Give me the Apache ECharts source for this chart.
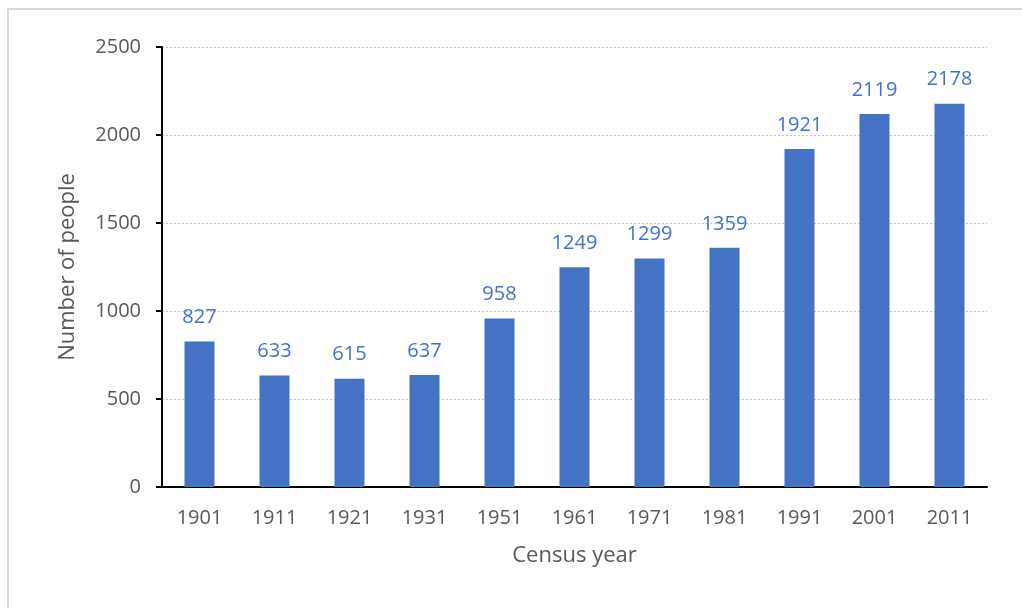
<!DOCTYPE html>
<html>
<head>
<meta charset="utf-8">
<script src="https://cdn.jsdelivr.net/npm/echarts@6/dist/echarts.min.js"></script>
<style>
  html, body { margin: 0; padding: 0; background: #fff; }
  #frame {
    position: absolute; left: 7px; top: 8px; width: 1030px; height: 620px;
    border: 2px solid #d9d9d9; box-sizing: border-box;
  }
  #chart { position: absolute; left: 0; top: 0; width: 1022px; height: 608px; }
</style>
</head>
<body>
<div id="frame"></div>
<div id="chart"></div>
<script>
// census years and head counts
const years = ['1901', '1911', '1921', '1931', '1951', '1961', '1971', '1981', '1991', '2001', '2011'];
const people = [827, 633, 615, 637, 958, 1249, 1299, 1359, 1921, 2119, 2178];
const yTicks = [0, 500, 1000, 1500, 2000, 2500];

const font = 'Open Sans, Noto Sans, sans-serif';
const chart = echarts.init(document.getElementById('chart'));

let option = {
  animation: false,
  grid: { left: 162, right: 35, top: 47, bottom: 121 },
  xAxis: {
    type: 'category',
    data: years,
    name: 'Census year',
    nameLocation: 'middle',
    nameGap: 58,
    nameTextStyle: { fontFamily: font, fontSize: 22, color: '#595959' },
    axisLine: { lineStyle: { color: '#000', width: 2 } },
    axisTick: { show: false },
    axisLabel: { fontFamily: font, fontSize: 20, color: '#595959', margin: 21 }
  },
  yAxis: {
    type: 'value',
    min: yTicks[0],
    max: yTicks[yTicks.length - 1],
    interval: 500,
    name: 'Number of people',
    nameLocation: 'middle',
    nameGap: 83,
    nameTextStyle: { fontFamily: font, fontSize: 22, color: '#595959' },
    axisLine: { show: true, lineStyle: { color: '#000', width: 2 } },
    axisTick: { show: true, length: 6, lineStyle: { color: '#000', width: 2 } },
    axisLabel: { fontFamily: font, fontSize: 20, color: '#595959', margin: 21, formatter: v => String(v) },
    splitLine: { lineStyle: { color: '#c4c4c4', type: [2, 2], width: 1 } }
  },
  series: [
    {
      type: 'bar',
      data: people,
      barWidth: 30,
      itemStyle: { color: '#4472C4' },
      label: {
        show: true,
        position: 'top',
        distance: 14,
        fontFamily: font,
        fontSize: 20,
        color: '#4472C4'
      }
    }
  ]
};
chart.setOption(option);
</script>
</body>
</html>
